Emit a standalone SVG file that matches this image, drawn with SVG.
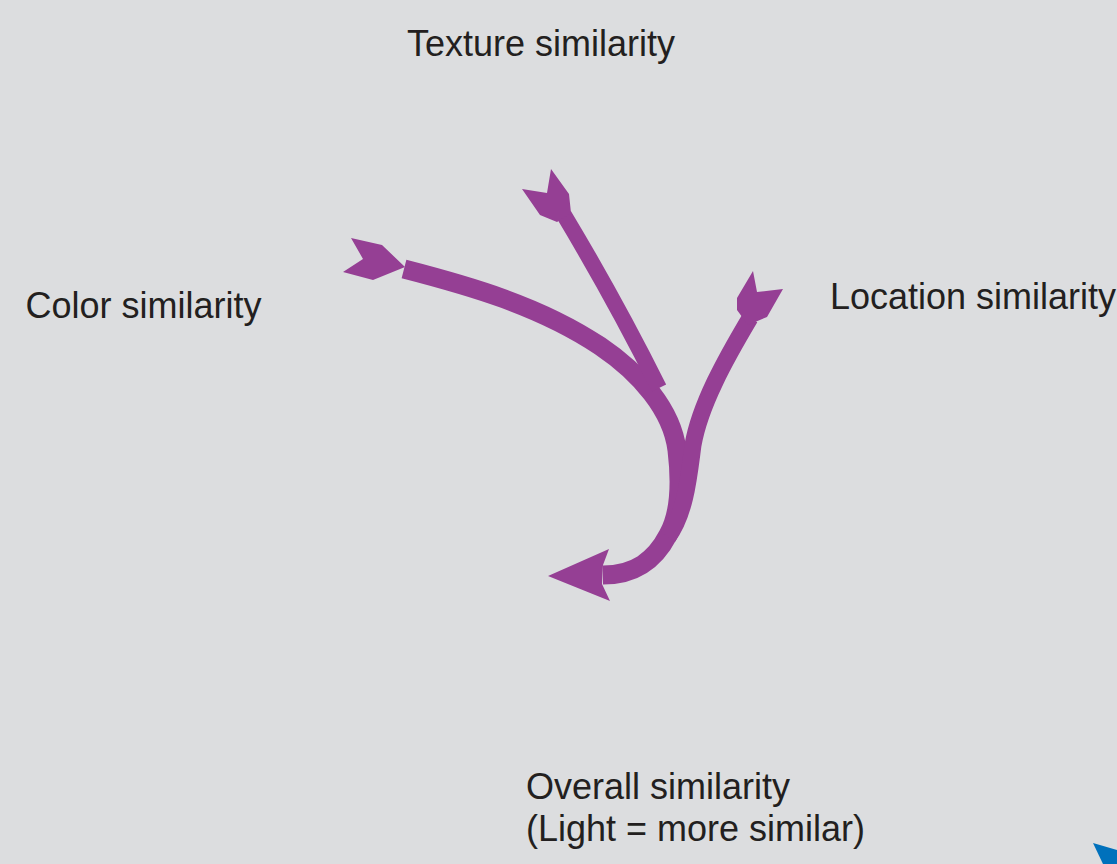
<svg xmlns="http://www.w3.org/2000/svg" width="1117" height="864" viewBox="0 0 1117 864">
  <style>
    .label { font-family: "Liberation Sans", Arial, sans-serif; font-size: 36px; fill: #231f20; }
    .flow { fill: none; stroke: #953f94; stroke-linecap: butt; stroke-linejoin: round; }
    .head { fill: #953f94; }
  </style>
  <rect x="0" y="0" width="1117" height="864" fill="#dcdddf"/>

  <!-- labels -->
  <g id="texture">
    <text class="label" x="407" y="56">Texture similarity</text>
  </g>
  <g id="color">
    <text class="label" x="25.5" y="318">Color similarity</text>
  </g>
  <g id="location">
    <text class="label" x="830" y="309">Location similarity</text>
  </g>
  <g id="overall">
    <text class="label" x="526" y="799">Overall similarity</text>
    <text class="label" x="526" y="841">(Light = more similar)</text>
  </g>

  <!-- converging arrows -->
  <g id="connectors">
    <!-- colour branch continues into the trunk -->
    <path class="flow" stroke-width="19" d="M404,269 C470,286 540,306 600,346 C640,373 672,410 677,450 C680,475 682,510 668,535 C655,560 635,575 603,575"/>
    <!-- location branch merging into the trunk -->
    <path class="flow" stroke-width="17" d="M750,318 C725,360 700,405 693,445 C689,475 686,512 668,537"/>
    <!-- texture branch -->
    <path class="flow" stroke-width="16" d="M564,215 Q615,300 659,388"/>
    <!-- tail fletchings -->
    <polygon class="head" points="351,238 382,245 405,267 373,280 343,272 363,259"/>
    <polygon class="head" points="551,169 569,194 571,213 557,222 540,215 522,189 547,193"/>
    <polygon class="head" points="753,271 757,292 783,289 767,317 748,325 737,310 737,298"/>
    <!-- arrowhead -->
    <polygon class="head" points="548,576 609,549 603,565 602,584 610,601"/>
  </g>

  <!-- corner marker -->
  <g id="corner">
    <polygon points="1093,843 1117,850 1117,864 1103,864" fill="#0071bc"/>
  </g>
</svg>
